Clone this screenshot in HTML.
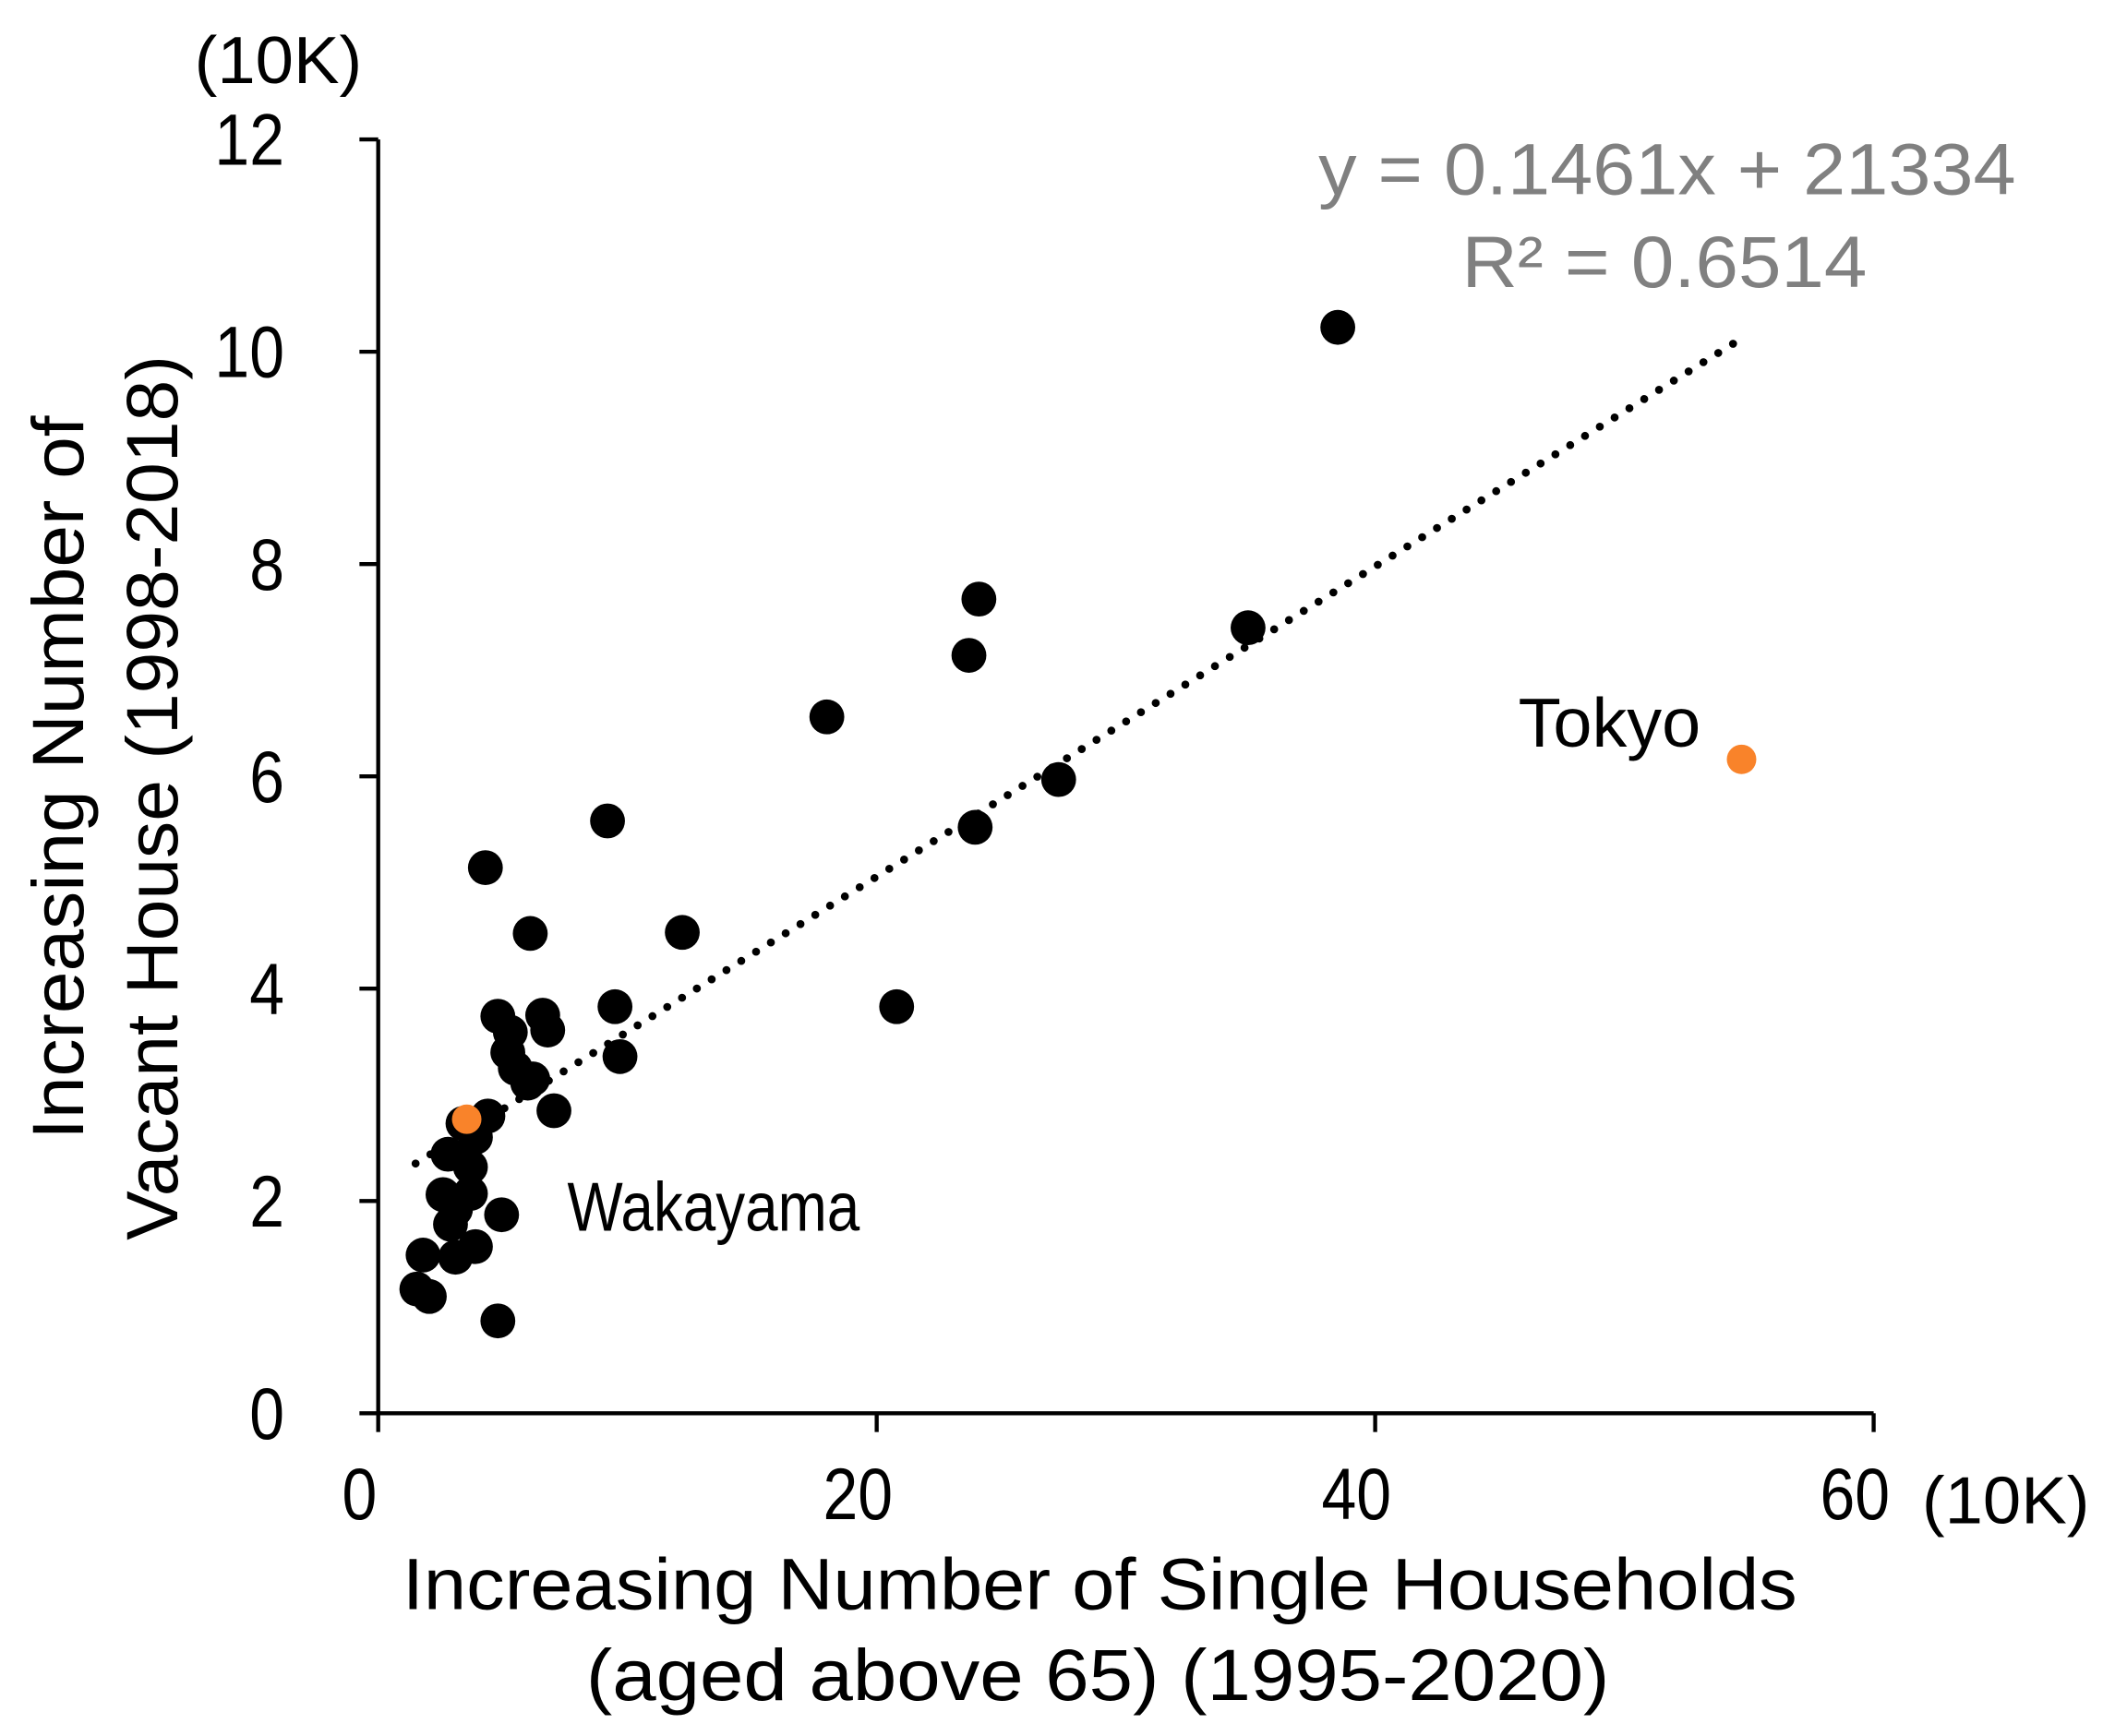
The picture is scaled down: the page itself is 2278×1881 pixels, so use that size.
<!DOCTYPE html>
<html><head><meta charset="utf-8"><style>
html,body{margin:0;padding:0;background:#fff;}
svg{display:block;}
text{font-family:"Liberation Sans","Noto Sans CJK JP",sans-serif;}
</style></head><body>
<svg id="chart" width="2278" height="1881" viewBox="0 0 1568 1294.7" preserveAspectRatio="none" xmlns="http://www.w3.org/2000/svg">
<g id="axes"></g>
<g id="trend"></g>
<g id="pts"></g>
<text x="145" y="62" font-size="50" textLength="125" lengthAdjust="spacingAndGlyphs">(10K)</text>
<text x="1433" y="1136" font-size="50" textLength="125" lengthAdjust="spacingAndGlyphs">(10K)</text>
<text x="300" y="1200" font-size="54" textLength="1040" lengthAdjust="spacingAndGlyphs">Increasing Number of Single Households</text>
<text x="437" y="1268" font-size="54" textLength="763" lengthAdjust="spacingAndGlyphs">(aged above 65) (1995-2020)</text>
<text transform="translate(62,850) rotate(-90)" font-size="54" textLength="540" lengthAdjust="spacingAndGlyphs">Increasing Number of</text>
<text transform="translate(132,925) rotate(-90)" font-size="54" textLength="660" lengthAdjust="spacingAndGlyphs">Vacant House (1998-2018)</text>
<text x="983" y="145" font-size="54" fill="#808080" textLength="520" lengthAdjust="spacingAndGlyphs">y = 0.1461x + 21334</text>
<text x="1090" y="214" font-size="54" fill="#808080" textLength="302" lengthAdjust="spacingAndGlyphs">R² = 0.6514</text>
<text x="423" y="918" font-size="52" textLength="218" lengthAdjust="spacingAndGlyphs">Wakayama</text>
<text x="1132" y="557" font-size="52" textLength="136" lengthAdjust="spacingAndGlyphs">Tokyo</text>
</svg>
<script>
const xTicks = [0, 20, 40, 60];
const yTicks = [0, 2, 4, 6, 8, 10, 12];
const xVals = [38.5,24.1,23.7,34.9,18.0,27.3,23.95,20.8,9.2,12.2,4.3,6.1,9.5,9.7,4.8,6.6,6.8,5.3,5.2,5.5,6.2,6.0,7.05,4.4,3.4,3.9,2.8,3.7,3.7,2.6,3.1,4.95,2.9,3.9,3.1,1.8,1.55,2.05,4.8];
const yVals = [10.23,7.67,7.14,7.40,6.56,5.97,5.52,3.83,5.58,4.53,5.14,4.52,3.83,3.36,3.74,3.75,3.61,3.59,3.40,3.25,3.15,3.11,2.85,2.80,2.73,2.60,2.44,2.32,2.07,2.06,1.92,1.87,1.78,1.57,1.47,1.49,1.17,1.10,0.87];
const hlNames = ["wakayama", "tokyo"];
const hlX = [3.55, 54.7];
const hlY = [2.77, 6.16];
const trendSlope = 0.1461;
const trendIntercept = 2.1334;
const trendRange = [1.5, 54.9];

const NS = "http://www.w3.org/2000/svg";
const X0 = 282, X1 = 1397, Y0 = 1054, Y1 = 104;
const sx = v => X0 + (v - 0) / 60 * (X1 - X0);
const sy = v => Y0 - (v - 0) / 12 * (Y0 - Y1);
function mk(tag, attrs, parent) {
  const e = document.createElementNS(NS, tag);
  for (const k in attrs) e.setAttribute(k, attrs[k]);
  parent.appendChild(e);
  return e;
}
const axes = document.getElementById('axes');
let l = mk('line', {x1: X0, y1: Y1, x2: X0, y2: Y0 + 1.5, stroke: '#000', 'stroke-width': 3}, axes);


l = mk('line', {x1: X0 - 1.5, y1: Y0, x2: X1, y2: Y0, stroke: '#000', 'stroke-width': 3}, axes);


yTicks.forEach(v => {
  const t = mk('line', {x1: X0 - 14, y1: sy(v), x2: X0, y2: sy(v), stroke: '#000', 'stroke-width': 3}, axes);
  
  
  const s = String(v);
  const w = s.length * 26;
  const tx = mk('text', {x: 212 - w, y: sy(v) + 19, 'font-size': 54, textLength: w, lengthAdjust: 'spacingAndGlyphs'}, axes);
  tx.textContent = s;
  
  
});
xTicks.forEach(v => {
  const t = mk('line', {x1: sx(v), y1: Y0, x2: sx(v), y2: Y0 + 14, stroke: '#000', 'stroke-width': 3}, axes);
  
  
  const s = String(v);
  const w = s.length * 26;
  const tx = mk('text', {x: sx(v) - 14 - w / 2, y: 1133, 'font-size': 54, textLength: w, lengthAdjust: 'spacingAndGlyphs'}, axes);
  tx.textContent = s;
  
  
});
const pts = document.getElementById('pts');
xVals.forEach((xv, i) => {
  const c = mk('circle', {cx: sx(xv), cy: sy(yVals[i]), r: 13, fill: '#000'}, pts);
  
  
});
hlX.forEach((xv, i) => {
  const c = mk('circle', {cx: sx(xv), cy: sy(hlY[i]), r: 11, fill: '#F9832A'}, pts);
  
  
});
const trend = document.getElementById('trend');
const tl = mk('line', {
  x1: sx(trendRange[0]), y1: sy(trendSlope * trendRange[0] + trendIntercept),
  x2: sx(trendRange[1]), y2: sy(trendSlope * trendRange[1] + trendIntercept),
  stroke: '#000', 'stroke-width': 6, 'stroke-linecap': 'round', 'stroke-dasharray': '0 13'
}, trend);


</script>
</body></html>
